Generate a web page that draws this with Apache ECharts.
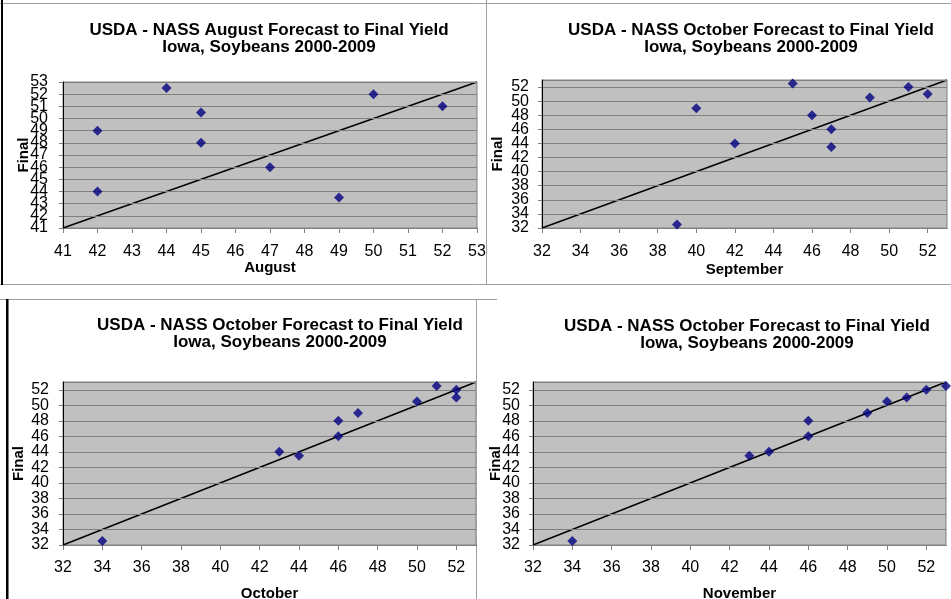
<!DOCTYPE html>
<html>
<head>
<meta charset="utf-8">
<script src="https://cdn.jsdelivr.net/npm/echarts@6/dist/echarts.min.js"></script>
<style>
html,body{margin:0;padding:0;background:#fff;}
#chart{width:951px;height:599px;}
</style>
</head>
<body>
<div id="chart"></div>
<script>
// ---- data ----
const titleLine1 = 'USDA - NASS August Forecast to Final Yield';
const titleLineOct = 'USDA - NASS October Forecast to Final Yield';
const titleLine2 = 'Iowa, Soybeans 2000-2009';
const xNames = ['August', 'September', 'October', 'November'];
const yName = 'Final';

const augustX = [42, 42, 44, 45, 45, 47, 49, 50, 52];
const augustFinal = [49, 44, 52.5, 50.5, 48, 46, 43.5, 52, 51];

const septX = [39, 40, 42, 45, 46, 47, 47, 49, 51, 52];
const septFinal = [32.5, 49, 44, 52.5, 48, 46, 43.5, 50.5, 52, 51];

const octX = [34, 43, 44, 46, 46, 47, 50, 51, 52, 52];
const octFinal = [32.5, 44, 43.5, 48, 46, 49, 50.5, 52.5, 52, 51];

const novX = [34, 43, 44, 46, 46, 49, 50, 51, 52, 53];
const novFinal = [32.5, 43.5, 44, 48, 46, 49, 50.5, 51, 52, 52.5];

// axis ranges (min, max, interval)
const range1 = [41, 53, 1];
const range2 = [32, 53, 2];

// 1:1 reference line endpoints
const diag1 = [[41, 41], [53, 53]];
const diag2 = [[32, 32], [53, 53]];

// ---- build ----
const font = 'Liberation Sans, Arial, sans-serif';
function pairs(xs, ys) { return xs.map((x, i) => [x, ys[i]]); }

const grids = [
  {left: 63, top: 82, width: 414, height: 146},
  {left: 542, top: 80, width: 405, height: 148},
  {left: 63, top: 382, width: 413, height: 163},
  {left: 533, top: 382, width: 413, height: 163}
].map(g => Object.assign(g, {show: true, containLabel: false, outerBoundsMode: 'none',
  backgroundColor: '#C0C0C0', borderColor: '#808080', borderWidth: 1}));

const ranges = [range1, range2, range2, range2];
const yGaps = [32, 37, 37, 30];
const xGaps = [32, 34, 41, 41];
const yMargins = [15, 13, 14, 13];
const xMargins = [16, 16, 15, 15];
const labelStyle = {fontFamily: font, fontSize: 16, color: '#000'};
const tickStyle = {color: '#808080'};

const xAxes = ranges.map((r, i) => ({
  type: 'value', gridIndex: i, min: r[0], max: r[1], interval: r[2],
  name: xNames[i], nameLocation: 'middle', nameGap: xGaps[i], nameMoveOverlap: false,
  nameTextStyle: {fontFamily: font, fontWeight: 'bold', fontSize: 15, color: '#000'},
  axisLine: {show: true, onZero: false, lineStyle: {color: '#000', width: 1}},
  axisTick: {show: true, length: 5, lineStyle: tickStyle},
  axisLabel: Object.assign({margin: xMargins[i], showMaxLabel: i === 0, showMinLabel: true}, labelStyle),
  splitLine: {show: false}
}));

// main y axes: inner labels
const yAxes = ranges.map((r, i) => ({
  type: 'value', gridIndex: i, min: r[0], max: r[1], interval: r[2],
  name: yName, nameLocation: 'middle', nameGap: yGaps[i], nameMoveOverlap: false,
  nameTextStyle: {fontFamily: font, fontWeight: 'bold', fontSize: 15, color: '#000'},
  axisLine: {show: true, onZero: false, lineStyle: {color: '#000', width: 1}},
  axisTick: {show: true, length: 4, lineStyle: tickStyle},
  axisLabel: Object.assign({margin: yMargins[i], showMaxLabel: false, showMinLabel: false}, labelStyle),
  splitLine: {show: true, lineStyle: {color: '#808080', width: 1}},
  z: 3
}));
// companion y axes: end labels (min, and max for the August panel)
ranges.forEach((r, i) => {
  yAxes.push({
    type: 'value', gridIndex: i, min: r[0], max: r[1], interval: r[2], position: 'left', offset: 0,
    axisLine: {show: false}, splitLine: {show: false},
    axisTick: {show: true, length: 4, lineStyle: tickStyle},
    axisLabel: Object.assign({
      margin: yMargins[i], showMinLabel: true, showMaxLabel: i === 0,
      formatter: v => (v === r[0] || (i === 0 && v === r[1])) ? String(v) : ''
    }, labelStyle),
    z: 3
  });
});

const scatterData = [pairs(augustX, augustFinal), pairs(septX, septFinal), pairs(octX, octFinal), pairs(novX, novFinal)];
const diags = [diag1, diag2, diag2, diag2];

const series = [];
scatterData.forEach((d, i) => {
  series.push({
    type: 'line', xAxisIndex: i, yAxisIndex: i, data: diags[i], showSymbol: false, symbol: 'none',
    lineStyle: {color: '#000', width: 1.5}, silent: true, animation: false, z: 2
  });
  series.push({
    type: 'scatter', xAxisIndex: i, yAxisIndex: i, data: d, symbol: 'diamond', symbolSize: 10,
    itemStyle: {color: '#000080'}, animation: false, z: 3
  });
});

const titleStyle = {fontFamily: font, fontWeight: 'bold', fontSize: 17, color: '#000', lineHeight: 17};
const titles = [
  {text: titleLine1 + '\n' + titleLine2, left: 269, top: 22},
  {text: titleLineOct + '\n' + titleLine2, left: 751, top: 22},
  {text: titleLineOct + '\n' + titleLine2, left: 280, top: 317},
  {text: titleLineOct + '\n' + titleLine2, left: 747, top: 318}
].map(t => Object.assign(t, {textAlign: 'center', padding: 0, textStyle: titleStyle}));

const lineStyle = {stroke: '#a0a0a0', lineWidth: 1};
const graphic = [
  {type: 'line', shape: {x1: 0, y1: 3.5, x2: 951, y2: 3.5}, style: lineStyle, silent: true},
  {type: 'line', shape: {x1: 486.5, y1: 0, x2: 486.5, y2: 284.5}, style: lineStyle, silent: true},
  {type: 'line', shape: {x1: 0, y1: 284.5, x2: 951, y2: 284.5}, style: lineStyle, silent: true},
  {type: 'line', shape: {x1: 0, y1: 299.5, x2: 497, y2: 299.5}, style: lineStyle, silent: true},
  {type: 'line', shape: {x1: 476.5, y1: 299.5, x2: 476.5, y2: 599}, style: lineStyle, silent: true},
  {type: 'rect', shape: {x: 1, y: 0, width: 2, height: 285}, style: {fill: '#000'}, silent: true},
  {type: 'rect', shape: {x: 6, y: 299, width: 2.5, height: 300}, style: {fill: '#000'}, silent: true}
];

const chart = echarts.init(document.getElementById('chart'), null, {renderer: 'canvas'});
chart.setOption({
  backgroundColor: '#fff',
  animation: false,
  title: titles,
  grid: grids,
  xAxis: xAxes,
  yAxis: yAxes,
  series: series,
  graphic: graphic
});
</script>
</body>
</html>
